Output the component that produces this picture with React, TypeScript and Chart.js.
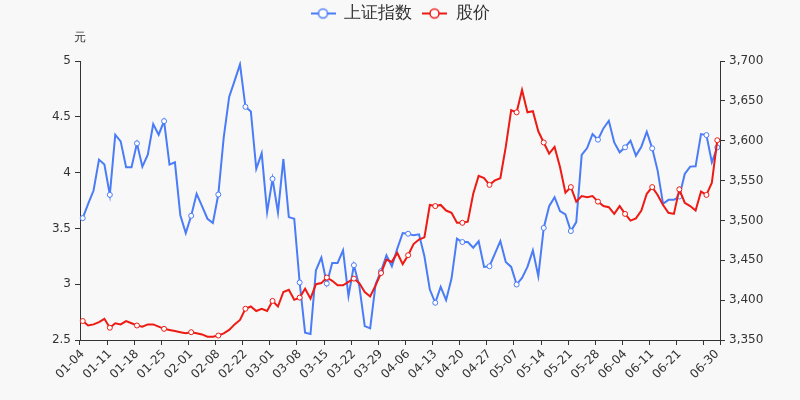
import React, { useEffect, useRef } from 'react';
import { Chart, registerables } from 'chart.js';

Chart.register(...registerables);

// Trading-day categories (2021-01-04 … 2021-06-30)
const dates: string[] = [
  '01-04', '01-05', '01-06', '01-07', '01-08', '01-11', '01-12', '01-13', '01-14', '01-15',
  '01-18', '01-19', '01-20', '01-21', '01-22', '01-25', '01-26', '01-27', '01-28', '01-29',
  '02-01', '02-02', '02-03', '02-04', '02-05', '02-08', '02-09', '02-10', '02-18', '02-19',
  '02-22', '02-23', '02-24', '02-25', '02-26', '03-01', '03-02', '03-03', '03-04', '03-05',
  '03-08', '03-09', '03-10', '03-11', '03-12', '03-15', '03-16', '03-17', '03-18', '03-19',
  '03-22', '03-23', '03-24', '03-25', '03-26', '03-29', '03-30', '03-31', '04-01', '04-02',
  '04-06', '04-07', '04-08', '04-09', '04-12', '04-13', '04-14', '04-15', '04-16', '04-19',
  '04-20', '04-21', '04-22', '04-23', '04-26', '04-27', '04-28', '04-29', '04-30', '05-06',
  '05-07', '05-10', '05-11', '05-12', '05-13', '05-14', '05-17', '05-18', '05-19', '05-20',
  '05-21', '05-24', '05-25', '05-26', '05-27', '05-28', '05-31', '06-01', '06-02', '06-03',
  '06-04', '06-07', '06-08', '06-09', '06-10', '06-11', '06-15', '06-16', '06-17', '06-18',
  '06-21', '06-22', '06-23', '06-24', '06-25', '06-28', '06-29', '06-30',
];

// 上证指数 (right axis)
const indexValues: number[] = [
  3502.9, 3520.8, 3537.5, 3576.3, 3570.0, 3532.1, 3607.5, 3599.2, 3566.7, 3566.7,
  3596.7, 3567.5, 3582.5, 3620.8, 3607.5, 3624.6, 3570.0, 3572.9, 3506.3, 3484.2,
  3505.8, 3533.3, 3517.9, 3502.1, 3496.7, 3532.5, 3604.2, 3655.0, 3675.0, 3695.8,
  3642.5, 3636.7, 3564.6, 3584.2, 3510.4, 3552.1, 3510.0, 3577.1, 3504.2, 3502.1,
  3422.1, 3359.2, 3357.5, 3437.5, 3453.3, 3420.8, 3446.7, 3446.7, 3462.5, 3405.0,
  3443.8, 3417.5, 3367.5, 3364.6, 3420.0, 3436.3, 3456.3, 3442.5, 3464.6, 3484.2,
  3483.3, 3481.3, 3482.5, 3455.0, 3413.3, 3396.7, 3416.7, 3400.0, 3427.1, 3477.1,
  3472.9, 3472.9, 3465.8, 3473.8, 3441.7, 3442.5, 3458.3, 3474.2, 3447.9, 3441.7,
  3419.6, 3427.9, 3441.7, 3462.5, 3430.0, 3490.6, 3517.9, 3529.2, 3511.7, 3507.5,
  3486.7, 3497.9, 3582.1, 3590.8, 3608.3, 3601.3, 3615.4, 3625.0, 3597.9, 3585.4,
  3591.7, 3600.0, 3581.3, 3592.5, 3611.3, 3590.4, 3562.5, 3520.8, 3525.8, 3525.8,
  3530.0, 3558.3, 3567.5, 3567.9, 3608.3, 3607.1, 3572.9, 3591.7,
];

// 股价 (left axis, 元)
const priceValues: number[] = [
  2.67, 2.63, 2.64, 2.66, 2.69, 2.61, 2.65, 2.64, 2.67, 2.65,
  2.63, 2.62, 2.64, 2.64, 2.62, 2.60, 2.59, 2.58, 2.57, 2.56,
  2.57, 2.56, 2.55, 2.53, 2.53, 2.54, 2.56, 2.59, 2.64, 2.68,
  2.78, 2.80, 2.76, 2.78, 2.76, 2.85, 2.80, 2.93, 2.95, 2.86,
  2.88, 2.96, 2.87, 3.00, 3.01, 3.06, 3.03, 2.99, 2.99, 3.02,
  3.05, 3.01, 2.93, 2.89, 2.99, 3.10, 3.22, 3.20, 3.28, 3.18,
  3.26, 3.36, 3.40, 3.42, 3.71, 3.70, 3.71, 3.66, 3.64, 3.55,
  3.55, 3.56, 3.81, 3.97, 3.95, 3.89, 3.93, 3.95, 4.23, 4.56,
  4.54, 4.74, 4.54, 4.55, 4.37, 4.27, 4.17, 4.23, 4.05, 3.82,
  3.87, 3.74, 3.79, 3.78, 3.79, 3.74, 3.70, 3.69, 3.63, 3.70,
  3.63, 3.57, 3.59, 3.66, 3.81, 3.87, 3.80, 3.71, 3.64, 3.63,
  3.85, 3.73, 3.70, 3.66, 3.83, 3.80, 3.91, 4.29,
];

const seriesNames = ['上证指数', '股价'];
const unitLabel = '元';

const BLUE = '#4a7cf7';
const RED = '#ee1a14';
const AXIS = '#333333';
const FONT = '"DejaVu Sans", sans-serif';

const lastIdx = dates.length - 1;
const isMarked = (i: number) => i % 5 === 0 || i === lastIdx;
const isLabeled = (i: number) => (i % 5 === 0 && lastIdx - i >= 5) || i === lastIdx;

function makeIcon(color: string): HTMLCanvasElement {
  const c = document.createElement('canvas');
  c.width = 25;
  c.height = 14;
  const ctx = c.getContext('2d')!;
  ctx.strokeStyle = color;
  ctx.lineWidth = 2;
  ctx.beginPath();
  ctx.moveTo(0, 7);
  ctx.lineTo(25, 7);
  ctx.stroke();
  ctx.beginPath();
  ctx.arc(12.5, 7, 4.5, 0, Math.PI * 2);
  ctx.fillStyle = '#ffffff';
  ctx.fill();
  ctx.lineWidth = 1.5;
  ctx.stroke();
  return c;
}

export default function App() {
  const ref = useRef<HTMLCanvasElement | null>(null);

  useEffect(() => {
    if (!ref.current) return;
    const icons = [makeIcon(BLUE), makeIcon(RED)];

    const legendSpacer = {
      id: 'legendSpacer',
      beforeLayout(chart: any) {
        const lg = chart.legend;
        if (lg && !lg.__patched) {
          const fit = lg.fit;
          lg.fit = function () {
            fit.call(this);
            this.height += 29;
          };
          lg.__patched = true;
        }
      },
    };

    const unitTitle = {
      id: 'unitTitle',
      afterDraw(chart: any) {
        const ctx = chart.ctx;
        ctx.save();
        ctx.font = `12px ${FONT}`;
        ctx.fillStyle = AXIS;
        ctx.textAlign = 'center';
        ctx.textBaseline = 'middle';
        ctx.fillText(unitLabel, chart.chartArea.left, 38);
        ctx.restore();
      },
    };

    const pointRadius = dates.map((_, i) => (isMarked(i) ? 2.5 : 0));

    const chart = new Chart(ref.current, {
      type: 'line',
      data: {
        labels: dates,
        datasets: [
          {
            label: seriesNames[0],
            data: indexValues,
            yAxisID: 'y1',
            borderColor: BLUE,
            backgroundColor: '#ffffff',
            borderWidth: 2,
            pointRadius,
            pointBackgroundColor: '#ffffff',
            pointBorderColor: BLUE,
            pointBorderWidth: 1,
            tension: 0,
            order: 1,
          },
          {
            label: seriesNames[1],
            data: priceValues,
            yAxisID: 'y',
            borderColor: RED,
            backgroundColor: '#ffffff',
            borderWidth: 2,
            pointRadius,
            pointBackgroundColor: '#ffffff',
            pointBorderColor: RED,
            pointBorderWidth: 1,
            tension: 0,
            order: 0,
          },
        ],
      },
      options: {
        responsive: false,
        animation: false,
        devicePixelRatio: 1,
        layout: { padding: { top: -5, left: 0, right: 0, bottom: 0 } },
        plugins: {
          tooltip: { enabled: false },
          legend: {
            position: 'top',
            align: 'center',
            labels: {
              usePointStyle: true,
              pointStyleWidth: 25,
              padding: 10,
              color: AXIS,
              font: { size: 17, family: FONT },
              generateLabels: () =>
                seriesNames.map((name, i) => ({
                  text: name,
                  pointStyle: icons[i] as any,
                  fillStyle: '#ffffff',
                  strokeStyle: i === 0 ? BLUE : RED,
                  lineWidth: 0,
                  hidden: false,
                  datasetIndex: i,
                  fontColor: AXIS,
                })),
            },
          },
        },
        scales: {
          x: {
            type: 'category',
            offset: true,
            grid: {
              offset: true,
              drawOnChartArea: false,
              drawTicks: true,
              tickLength: 5,
              color: (ctx: any) =>
                ctx.index === undefined || ctx.index % 5 === 0 ? AXIS : 'rgba(0,0,0,0)',
            },
            border: { display: true, color: AXIS, width: 1 },
            ticks: {
              autoSkip: false,
              minRotation: 45,
              maxRotation: 45,
              padding: 2,
              color: AXIS,
              font: { size: 12, family: FONT },
              callback: (_v: any, i: number) => (isLabeled(i) ? dates[i] : ''),
            },
            afterFit: (s: any) => {
              s.height = 60;
            },
          },
          y: {
            position: 'left',
            min: 2.5,
            max: 5,
            ticks: {
              stepSize: 0.5,
              padding: 4,
              color: AXIS,
              font: { size: 12, family: FONT },
              callback: (v: any) => String(Number(v)),
            },
            grid: { drawOnChartArea: false, drawTicks: true, tickLength: 5, color: AXIS },
            border: { display: true, color: AXIS, width: 1 },
            afterFit: (s: any) => {
              s.width = 80;
            },
          },
          y1: {
            position: 'right',
            min: 3350,
            max: 3700,
            ticks: {
              stepSize: 50,
              padding: 4,
              color: AXIS,
              font: { size: 12, family: FONT },
            },
            grid: { drawOnChartArea: false, drawTicks: true, tickLength: 5, color: AXIS },
            border: { display: true, color: AXIS, width: 1 },
            afterFit: (s: any) => {
              s.width = 80;
            },
          },
        },
      },
      plugins: [legendSpacer, unitTitle],
    } as any);

    return () => chart.destroy();
  }, []);

  return (
    <div
      style={{
        position: 'fixed',
        left: 0,
        top: 0,
        width: 800,
        height: 400,
        background: '#f8f8f8',
      }}
    >
      <canvas ref={ref} width={800} height={400} style={{ display: 'block' }} />
    </div>
  );
}
